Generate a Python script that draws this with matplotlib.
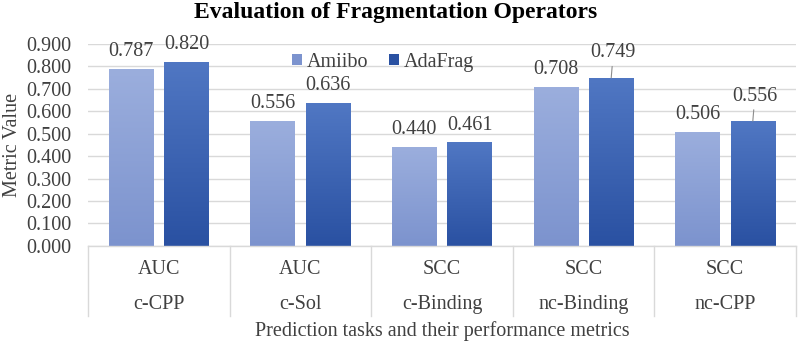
import matplotlib.pyplot as plt
import numpy as np
from matplotlib.colors import LinearSegmentedColormap
from matplotlib.patches import Patch

plt.rcParams["font.family"] = ["Liberation Serif", "DejaVu Serif"]

tasks = ["c-CPP", "c-Sol", "c-Binding", "nc-Binding", "nc-CPP"]
metrics = ["AUC", "AUC", "SCC", "SCC", "SCC"]
amiibo = [0.787, 0.556, 0.440, 0.708, 0.506]
adafrag = [0.820, 0.636, 0.461, 0.749, 0.556]
series_names = ["Amiibo", "AdaFrag"]

# gradient colours (top, bottom)
amiibo_grad = ("#9BAEDD", "#7C93CE")
adafrag_grad = ("#5077C3", "#2A51A2")

text_color = "#404040"
grid_color = "#D9D9D9"
fs = 14.5

fig = plt.figure(figsize=(8, 3.43), dpi=100)
ax = fig.add_axes([0.11, 0.283, 0.885, 0.589])

x = np.arange(len(tasks))
width = 0.315
offset = 0.195

ax.set_xlim(-0.5, len(tasks) - 0.5)
ax.set_ylim(0, 0.9)
ax.set_yticks(np.arange(0, 0.91, 0.1))
ax.set_yticklabels([f"{v:.3f}" for v in np.arange(0, 0.91, 0.1)])
ax.grid(axis="y", color=grid_color, linewidth=1)
ax.set_axisbelow(True)
ax.tick_params(axis="y", length=0, labelsize=fs, labelcolor=text_color, pad=12)
ax.tick_params(axis="x", length=0, labelbottom=False)
for s in ["top", "right", "left"]:
    ax.spines[s].set_visible(False)
ax.spines["bottom"].set_color(grid_color)
ax.spines["bottom"].set_linewidth(1)


def gradient_bars(xs, vals, grad):
    cmap = LinearSegmentedColormap.from_list("g", [grad[1], grad[0]])
    bars = ax.bar(xs, vals, width, color="none", edgecolor="none", zorder=2)
    for b in bars:
        x0, y0 = b.get_x(), b.get_y()
        w, h = b.get_width(), b.get_height()
        img = ax.imshow(np.linspace(0, 1, 100).reshape(-1, 1), cmap=cmap,
                        extent=[x0, x0 + w, y0, y0 + h], origin="lower",
                        aspect="auto", zorder=2)
        img.set_clip_path(b)
    return bars


bars1 = gradient_bars(x - offset, amiibo, amiibo_grad)
bars2 = gradient_bars(x + offset, adafrag, adafrag_grad)
ax.set_xlim(-0.5, len(tasks) - 0.5)
ax.set_ylim(0, 0.9)

# data labels
leader = {("AdaFrag", 3), ("AdaFrag", 4)}
for name, bars, vals in [("Amiibo", bars1, amiibo), ("AdaFrag", bars2, adafrag)]:
    for i, (b, v) in enumerate(zip(bars, vals)):
        cx = b.get_x() + b.get_width() / 2
        if (name, i) in leader:
            ax.annotate(f"{v:.3f}", xy=(cx, v), xytext=(1.5, 18),
                        textcoords="offset points", ha="center", va="center",
                        fontsize=fs, color=text_color,
                        arrowprops=dict(arrowstyle="-", color="#8C8C8C",
                                        lw=0.8, shrinkA=1, shrinkB=0))
        else:
            ax.annotate(f"{v:.3f}", xy=(cx, v), xytext=(0, 12.5),
                        textcoords="offset points", ha="center", va="center",
                        fontsize=fs, color=text_color)

# multi-level category axis
tr = ax.get_xaxis_transform()
for k in range(len(tasks) + 1):
    ax.plot([k - 0.5, k - 0.5], [0, -0.347], transform=tr, color=grid_color,
            lw=1, clip_on=False)
for i in range(len(tasks)):
    ax.text(i, -0.119, metrics[i], transform=tr, ha="center", va="center",
            fontsize=fs, color=text_color)
    ax.text(i, -0.292, tasks[i], transform=tr, ha="center", va="center",
            fontsize=fs, color=text_color)

ax.text(0.5, -0.42, "Prediction tasks and their performance metrics",
        transform=ax.transAxes, ha="center", va="center", fontsize=fs,
        color=text_color)
fig.text(0.016, 0.577, "Metric Value", rotation=90, ha="center", va="center",
         fontsize=fs, color=text_color)
fig.text(0.494, 0.963, "Evaluation of Fragmentation Operators", ha="center",
         va="center", fontsize=17, fontweight="bold", color="black")

handles = [Patch(facecolor=amiibo_grad[1]), Patch(facecolor=adafrag_grad[1])]
ax.legend(handles, series_names, loc="center", bbox_to_anchor=(0.417, 0.91),
          ncol=2, frameon=False, fontsize=fs, handlelength=0.5,
          handleheight=0.5, handletextpad=0.25, columnspacing=1.0,
          labelcolor=text_color, borderpad=0.1)

fig.savefig("out.png", dpi=100)
